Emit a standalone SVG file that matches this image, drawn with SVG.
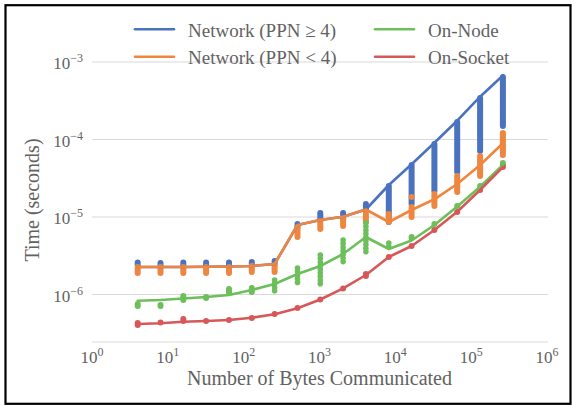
<svg xmlns="http://www.w3.org/2000/svg" width="572" height="406" viewBox="0 0 572 406">
  <style>
    text { font-family: "Liberation Serif", "Times New Roman", serif; fill: #626262; }
    .tick { font-size: 17px; }
    .sup { font-size: 12px; }
    .title { font-size: 20px; }
    .leg { font-size: 19px; }
    .grid { stroke: #d9d9d9; stroke-width: 1.2; fill: none; }
    .pts { fill: none; stroke-width: 6; stroke-linecap: round; }
    .beads { stroke-dasharray: 0 3.6; stroke-width: 5.6; }
    .line { fill: none; stroke-width: 2.6; stroke-linejoin: round; stroke-linecap: round; }
    .blue { stroke: #4a72bf; }
    .orange { stroke: #ef8640; }
    .green { stroke: #6cbf5a; }
    .red { stroke: #d65858; }
  </style>

  <!-- background and frame -->
  <rect x="0" y="0" width="572" height="406" fill="#ffffff"/>
  <rect x="5.5" y="5.2" width="565" height="398.6" fill="none" stroke="#000000" stroke-width="2.2"/>

  <!-- gridlines and horizontal axis -->
  <g id="grid">
    <path class="grid" d="M92 62H548M92 139.5H548M92 217H548M92 294.5H548M92 342H548"/>
  </g>

  <!-- y tick labels -->
  <g id="y-ticks">
    <text x="83" y="69" text-anchor="end" class="tick">10<tspan class="sup" dy="-7">−3</tspan></text>
    <text x="83" y="146.5" text-anchor="end" class="tick">10<tspan class="sup" dy="-7">−4</tspan></text>
    <text x="83" y="224" text-anchor="end" class="tick">10<tspan class="sup" dy="-7">−5</tspan></text>
    <text x="83" y="301.5" text-anchor="end" class="tick">10<tspan class="sup" dy="-7">−6</tspan></text>
  </g>

  <!-- x tick labels -->
  <g id="x-ticks">
    <text x="92" y="363" text-anchor="middle" class="tick">10<tspan class="sup" dy="-7">0</tspan></text>
    <text x="167.8" y="363" text-anchor="middle" class="tick">10<tspan class="sup" dy="-7">1</tspan></text>
    <text x="243.7" y="363" text-anchor="middle" class="tick">10<tspan class="sup" dy="-7">2</tspan></text>
    <text x="319.5" y="363" text-anchor="middle" class="tick">10<tspan class="sup" dy="-7">3</tspan></text>
    <text x="395.3" y="363" text-anchor="middle" class="tick">10<tspan class="sup" dy="-7">4</tspan></text>
    <text x="471.2" y="363" text-anchor="middle" class="tick">10<tspan class="sup" dy="-7">5</tspan></text>
    <text x="547" y="363" text-anchor="middle" class="tick">10<tspan class="sup" dy="-7">6</tspan></text>
  </g>

  <!-- axis titles -->
  <g id="axis-titles">
    <text x="319.5" y="384.5" text-anchor="middle" class="title">Number of Bytes Communicated</text>
    <text transform="translate(39 200) rotate(-90)" text-anchor="middle" class="title">Time (seconds)</text>
  </g>

  <!-- measured samples -->
  <g id="samples">
    <path class="pts blue" d="M137.7 262.5V265M160.5 263V265M183.3 262.5V265M206.1 262.5V265M229 262.5V265M251.8 262V264.5M274.6 261V264M297.5 224V227M320.3 213V220M343.1 213V218M365.9 204V210M388.8 186V222M411.6 165V204M434.4 144V191M457.2 122V172M480.1 98V151M502.9 77V126"/>
    <path class="pts orange" d="M137.7 267V273M160.5 267V273M183.3 267V273M206.1 267V273M229 267V273M251.8 266V272M274.6 265V272M297.5 227V237M320.3 221V229M343.1 218V226M365.9 213V222M388.8 214V222M411.6 197V197.1M411.6 207V217M434.4 194V206M457.2 176V192M480.1 156V176M502.9 133V155"/>
    <path class="pts green" d="M137.7 304V306M160.5 305V306M183.3 296V300M206.1 297V298M229 289V293M251.8 288V292M411.6 237V238M434.4 224V224.1M457.2 206V206.1M480.1 186V186.1M502.9 163V166"/>
    <path class="pts beads green" d="M274.6 280V292.6M297.5 268V285.2M320.3 255V284.2M343.1 240V261.6M365.9 223V255.4M388.8 243V250.2"/>
    <path class="pts red" d="M137.7 323V325M160.5 322.5V322.6M183.3 319V321M206.1 321V321.1M229 320V320.1M251.8 318V318.1M274.6 314V314.1M297.5 308V308.1M320.3 299.5V299.6M343.1 288.5V288.6M365.9 274V276M388.8 257V257.1M411.6 246V246.1M434.4 230V230.1M457.2 212V212.1M480.1 190V190.1M502.9 167V167.1"/>
  </g>

  <!-- trend lines -->
  <g id="trends">
    <polyline class="line blue" points="137.7,267 160.5,267 183.3,267 206.1,266.7 229,266.5 251.8,266 274.6,264 297.5,225 320.3,220 343.1,216.7 365.9,209.5 388.8,185 411.6,164.3 434.4,142.7 457.2,120.7 480.1,96.7 502.9,75.5"/>
    <polyline class="line orange" points="137.7,267 160.5,267 183.3,267 206.1,266.7 229,266.5 251.8,266 274.6,264 297.5,225 320.3,220 343.1,216.7 365.9,209.5 388.8,222 411.6,210 434.4,199.3 457.2,184 480.1,165 502.9,143.3"/>
    <polyline class="line green" points="137.7,300.7 160.5,300 183.3,298.5 206.1,297 229,295 251.8,290 274.6,284 297.5,274 320.3,266 343.1,254 365.9,237 388.8,249 411.6,240.5 434.4,225 457.2,206.5 480.1,186.7 502.9,165"/>
    <polyline class="line red" points="137.7,324 160.5,323.3 183.3,321.7 206.1,321 229,320 251.8,317.7 274.6,314.3 297.5,308.3 320.3,299.5 343.1,288.3 365.9,275 388.8,257 411.6,246 434.4,230 457.2,211.7 480.1,190 502.9,167"/>
  </g>

  <!-- legend -->
  <g id="legend">
    <g id="legend-network-ge4">
      <path class="line blue" d="M135 29.3H174" stroke-linecap="butt"/>
      <text x="188" y="36.7" class="leg">Network (PPN ≥ 4)</text>
    </g>
    <g id="legend-network-lt4">
      <path class="line orange" d="M135 56.7H174" stroke-linecap="butt"/>
      <text x="188" y="63.7" class="leg">Network (PPN &lt; 4)</text>
    </g>
    <g id="legend-on-node">
      <path class="line green" d="M375 29.3H414" stroke-linecap="butt"/>
      <text x="428" y="36.7" class="leg">On-Node</text>
    </g>
    <g id="legend-on-socket">
      <path class="line red" d="M375 56.7H414" stroke-linecap="butt"/>
      <text x="428" y="63.7" class="leg">On-Socket</text>
    </g>
  </g>
</svg>
